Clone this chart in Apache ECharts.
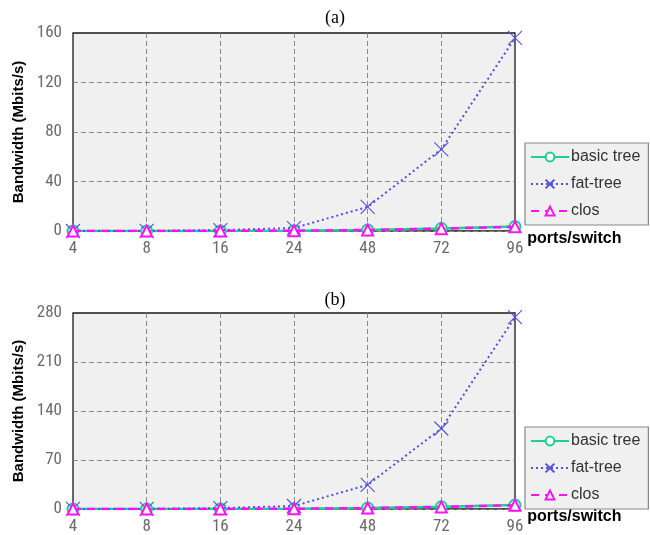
<!DOCTYPE html>
<html><head><meta charset="utf-8">
<script src="https://cdn.jsdelivr.net/npm/echarts@6/dist/echarts.min.js"></script>
<style>html,body{margin:0;padding:0;background:#fff}#c{width:650px;height:535px}</style>
</head><body><div id="c"></div>
<script>
const categories = ['4','8','16','24','48','72','96'];
const seriesNames = ['basic tree','fat-tree','clos'];
// panel (a)
const basicTreeA = [0.01, 0.03, 0.1, 0.25, 0.9, 2.0, 3.6];
const fatTreeA   = [0.01, 0.1, 0.7, 2.4, 19.5, 66, 156];
const closA      = [0.01, 0.03, 0.1, 0.22, 0.85, 1.9, 3.4];
const yTicksA = [0, 40, 80, 120, 160];
// panel (b)
const basicTreeB = [0.01, 0.04, 0.15, 0.35, 1.4, 3.2, 5.6];
const fatTreeB   = [0.02, 0.16, 1.3, 4.3, 34.5, 115, 274];
const closB      = [0.01, 0.04, 0.14, 0.32, 1.3, 3.0, 5.3];
const yTicksB = [0, 70, 140, 210, 280];
const titles = ['(a)', '(b)'];

const tickFont = "'Liberation Sans Narrow','Arial Narrow','Roboto Condensed',Roboto,sans-serif";
const colors = ['#1ccf93', '#5050e0', '#ff10ff'];
const crossPath = 'path://M0,0L10,10M10,0L0,10';
const gridGray = '#8a8a8a';

const panels = [
  {top: 33, height: 198, data: [basicTreeA, fatTreeA, closA], ticks: yTicksA, titleTop: 4, legendTop: 143},
  {top: 313, height: 200, data: [basicTreeB, fatTreeB, closB], ticks: yTicksB, titleTop: 286, legendTop: 427}
];

const option = {animation:false, title:[], grid:[], xAxis:[], yAxis:[], series:[], legend:[]};
panels.forEach((p, i) => {
  option.title.push({text: titles[i], left: 330, top: p.titleTop, textAlign:'center',
    textStyle:{fontFamily:"'Liberation Serif','Times New Roman',serif", fontWeight:'normal', fontSize:18, color:'#000'}});
  option.grid.push({left:73, top:p.top, width:442, height:p.height, show:true, backgroundColor:'#f0f0f0', borderWidth:1.3, borderColor:'#1a1a1a'});
  const step = p.ticks[1] - p.ticks[0];
  const ymax = p.ticks[p.ticks.length-1];
  const xSplitColors = categories.map((c, k) => (k === 0 || k === categories.length - 1) ? 'rgba(0,0,0,0)' : gridGray);
  const ySplitColors = p.ticks.map((t, k) => (k === p.ticks.length - 1) ? 'rgba(0,0,0,0)' : gridGray);
  option.xAxis.push({type:'category', gridIndex:i, data:categories, boundaryGap:false,
    axisLine:{show:false}, axisTick:{show:false},
    axisLabel:{margin:9, fontSize:17, color:'#6a6a6a', fontFamily:tickFont},
    splitLine:{show:true, lineStyle:{color:xSplitColors, type:[5,3], width:1}},
    name:'ports/switch', nameLocation:'end', nameGap:8,
    nameTextStyle:{fontSize:16, fontWeight:'bold', color:'#000', fontFamily:"'Liberation Sans',Arial,sans-serif", verticalAlign:'top', align:'left', padding:[0,0,0,0], lineHeight:16}});
  option.yAxis.push({type:'value', gridIndex:i, min:0, max:ymax, interval:step,
    axisLine:{show:false}, axisTick:{show:false},
    axisLabel:{margin:11, fontSize:17, color:'#6a6a6a', fontFamily:tickFont},
    splitLine:{show:true, lineStyle:{color:ySplitColors, type:[5,3], width:1}},
    name:'Bandwidth (Mbits/s)', nameLocation:'middle', nameGap:47,
    nameTextStyle:{fontSize:15, fontWeight:'bold', color:'#000', fontFamily:"'Liberation Sans',Arial,sans-serif"}});
  option.series.push(
    {name:seriesNames[0], type:'line', xAxisIndex:i, yAxisIndex:i, data:p.data[0], z:3,
      symbol:'emptyCircle', symbolSize:11, lineStyle:{color:colors[0], width:2.5},
      itemStyle:{color:colors[0], borderColor:colors[0], borderWidth:1.2}},
    {name:seriesNames[1], type:'line', xAxisIndex:i, yAxisIndex:i, data:p.data[1], z:4,
      symbol:crossPath, symbolSize:14, lineStyle:{color:colors[1], width:2, type:[2,3]},
      itemStyle:{color:'none', borderColor:colors[1], borderWidth:1.1}},
    {name:seriesNames[2], type:'line', xAxisIndex:i, yAxisIndex:i, data:p.data[2], z:5,
      symbol:'emptyTriangle', symbolSize:11, lineStyle:{color:colors[2], width:2.5, type:[8,6]},
      itemStyle:{color:colors[2], borderColor:colors[2], borderWidth:1.5}}
  );
  option.legend.push({left:525, top:p.legendTop, orient:'vertical', data:seriesNames,
    backgroundColor:'#f0f0f0', borderColor:'#888', borderWidth:1.2, borderRadius:0,
    padding:[6,8,6,5], itemGap:11, itemWidth:38, itemHeight:11,
    textStyle:{fontSize:16, color:'#333', fontFamily:"'Liberation Sans',Arial,sans-serif", padding:[0,0,0,-3]},
    selectedMode:false});
});
echarts.init(document.getElementById('c'), null, {renderer:'canvas'}).setOption(option);
</script></body></html>
